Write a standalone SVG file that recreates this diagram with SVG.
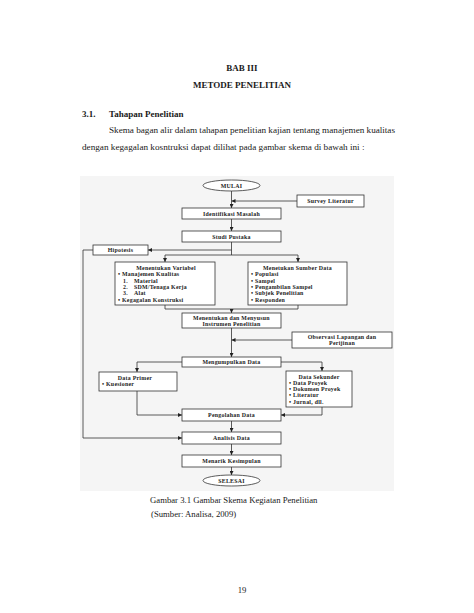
<svg xmlns="http://www.w3.org/2000/svg" width="474" height="613" viewBox="0 0 474 613">
<style>
.pg{font-family:"Liberation Serif","Times New Roman",serif;fill:#1a1a1a}
.b{font-weight:bold}
.n{font-family:"Liberation Serif","Times New Roman",serif;font-weight:bold;font-size:5.9px;letter-spacing:0.25px;fill:#222}
.box{fill:#fff;stroke:#333;stroke-width:0.8}
.ln{fill:none;stroke:#333;stroke-width:0.8}
</style>
<defs>
<marker id="ah" viewBox="0 0 6 6" refX="6" refY="3" markerWidth="4" markerHeight="4" orient="auto" markerUnits="userSpaceOnUse"><path d="M0,0 L6,3 L0,6 z" fill="#222"/></marker>
</defs>
<rect width="474" height="613" fill="#fff"/>
<g id="heading">
<text class="pg b" x="242" y="71" font-size="9" text-anchor="middle">BAB III</text>
<text class="pg b" x="242" y="88" font-size="9" text-anchor="middle">METODE PENELITIAN</text>
<text class="pg b" x="82" y="117" font-size="9">3.1.</text>
<text class="pg b" x="109" y="117" font-size="9">Tahapan Penelitian</text>
<text class="pg" x="109" y="133" font-size="9.2" textLength="286" lengthAdjust="spacing">Skema bagan alir dalam tahapan penelitian kajian tentang manajemen kualitas</text>
<text class="pg" x="82" y="150" font-size="9.2">dengan kegagalan kosntruksi dapat dilihat pada gambar skema di bawah ini :</text>
</g>
<rect x="80" y="176" width="314" height="315" fill="#f5f5f5"/>
<g id="connectors">
<path class="ln" d="M231.5,191 V208" marker-end="url(#ah)"/>
<path class="ln" d="M297,201 H231.5" marker-end="url(#ah)"/>
<path class="ln" d="M231.5,219 V231" marker-end="url(#ah)"/>
<path class="ln" d="M231.5,242 V255"/>
<path class="ln" d="M231.5,250 H148" marker-end="url(#ah)"/>
<path class="ln" d="M93,250 H83 V438 H182" marker-end="url(#ah)"/>
<path class="ln" d="M165,255 H298"/>
<path class="ln" d="M165,255 V262" marker-end="url(#ah)"/>
<path class="ln" d="M298,255 V262" marker-end="url(#ah)"/>
<path class="ln" d="M165,305 V309 H298 V305"/>
<path class="ln" d="M231.5,309 V313" marker-end="url(#ah)"/>
<path class="ln" d="M231.5,328 V357" marker-end="url(#ah)"/>
<path class="ln" d="M292,340 H231.5" marker-end="url(#ah)"/>
<path class="ln" d="M182,362 H137 V372" marker-end="url(#ah)"/>
<path class="ln" d="M281,362 H322 V371" marker-end="url(#ah)"/>
<path class="ln" d="M137,391 V415 H182" marker-end="url(#ah)"/>
<path class="ln" d="M322,407 V415 H281" marker-end="url(#ah)"/>
<path class="ln" d="M231.5,421 V432" marker-end="url(#ah)"/>
<path class="ln" d="M231.5,444 V455" marker-end="url(#ah)"/>
<path class="ln" d="M231.5,467 V475" marker-end="url(#ah)"/>
</g>
<g id="mulai"><ellipse class="box" cx="231.5" cy="185.5" rx="28.5" ry="5.5"/><text class="n" x="231.5" y="187.6" text-anchor="middle">MULAI</text></g>
<g id="survey"><rect class="box" x="297" y="195" width="67" height="12"/><text class="n" x="330.5" y="203.1" text-anchor="middle">Survey Literatur</text></g>
<g id="identifikasi"><rect class="box" x="182" y="208" width="99" height="11"/><text class="n" x="231.5" y="215.6" text-anchor="middle">Identifikasi Masalah</text></g>
<g id="studi"><rect class="box" x="182" y="231" width="99" height="11"/><text class="n" x="231.5" y="238.6" text-anchor="middle">Studi Pustaka</text></g>
<g id="hipotesis"><rect class="box" x="93" y="245" width="55" height="10"/><text class="n" x="120.5" y="252.1" text-anchor="middle">Hipotesis</text></g>
<g id="variabel"><rect class="box" x="115" y="262" width="100" height="43"/>
<text class="n" x="166" y="270" text-anchor="middle">Menentukan Variabel</text>
<text class="n" x="118" y="276.3">• Manajemen Kualitas</text>
<text class="n" x="123" y="282.6">1.</text><text class="n" x="134" y="282.6">Material</text>
<text class="n" x="123" y="288.9">2.</text><text class="n" x="134" y="288.9">SDM/Tenaga Kerja</text>
<text class="n" x="123" y="295.2">3.</text><text class="n" x="134" y="295.2">Alat</text>
<text class="n" x="118" y="301.5">• Kegagalan Konstruksi</text>
</g>
<g id="sumber"><rect class="box" x="248" y="262" width="99" height="43"/>
<text class="n" x="297.5" y="270" text-anchor="middle">Menetukan Sumber Data</text>
<text class="n" x="251" y="276.3">• Populasi</text>
<text class="n" x="251" y="282.6">• Sampel</text>
<text class="n" x="251" y="288.9">• Pengambilan Sampel</text>
<text class="n" x="251" y="295.2">• Subjek Penelitian</text>
<text class="n" x="251" y="301.5">• Responden</text>
</g>
<g id="instrumen"><rect class="box" x="182" y="313" width="99" height="15"/><text class="n" x="231.5" y="319.6" text-anchor="middle">Menentukan dan Menyusun</text><text class="n" x="231.5" y="325.9" text-anchor="middle">Instrumen Penelitian</text></g>
<g id="observasi"><rect class="box" x="292" y="332" width="100" height="16"/><text class="n" x="342" y="339" text-anchor="middle">Observasi Lapangan dan</text><text class="n" x="342" y="345.3" text-anchor="middle">Perijinan</text></g>
<g id="mengumpulkan"><rect class="box" x="182" y="357" width="99" height="10"/><text class="n" x="231.5" y="364.1" text-anchor="middle">Mengumpulkan Data</text></g>
<g id="primer"><rect class="box" x="99" y="372" width="78" height="19"/><text class="n" x="135" y="379.5" text-anchor="middle">Data Primer</text><text class="n" x="102" y="385.8">• Kuesioner</text></g>
<g id="sekunder"><rect class="box" x="286" y="371" width="66" height="36"/>
<text class="n" x="319" y="378.5" text-anchor="middle">Data Sekunder</text>
<text class="n" x="289" y="384.8">• Data Proyek</text>
<text class="n" x="289" y="391.1">• Dokumen Proyek</text>
<text class="n" x="289" y="397.4">• Literatur</text>
<text class="n" x="289" y="403.7">• Jurnal, dll.</text>
</g>
<g id="pengolahan"><rect class="box" x="182" y="409" width="99" height="12"/><text class="n" x="231.5" y="417.1" text-anchor="middle">Pengolahan Data</text></g>
<g id="analisis"><rect class="box" x="182" y="432" width="99" height="12"/><text class="n" x="231.5" y="440.1" text-anchor="middle">Analisis Data</text></g>
<g id="menarik"><rect class="box" x="182" y="455" width="99" height="12"/><text class="n" x="231.5" y="463.1" text-anchor="middle">Menarik Kesimpulan</text></g>
<g id="selesai"><ellipse class="box" cx="231.5" cy="480.5" rx="28.5" ry="5.5"/><text class="n" x="231.5" y="482.6" text-anchor="middle">SELESAI</text></g>
<g id="caption">
<text class="pg" x="150" y="503" font-size="8.7">Gambar 3.1 Gambar Skema Kegiatan Penelitian</text>
<text class="pg" x="151" y="517" font-size="8.7">(Sumber: Analisa, 2009)</text>
<text class="pg" x="242" y="593" font-size="8.7" text-anchor="middle">19</text>
</g>
</svg>
